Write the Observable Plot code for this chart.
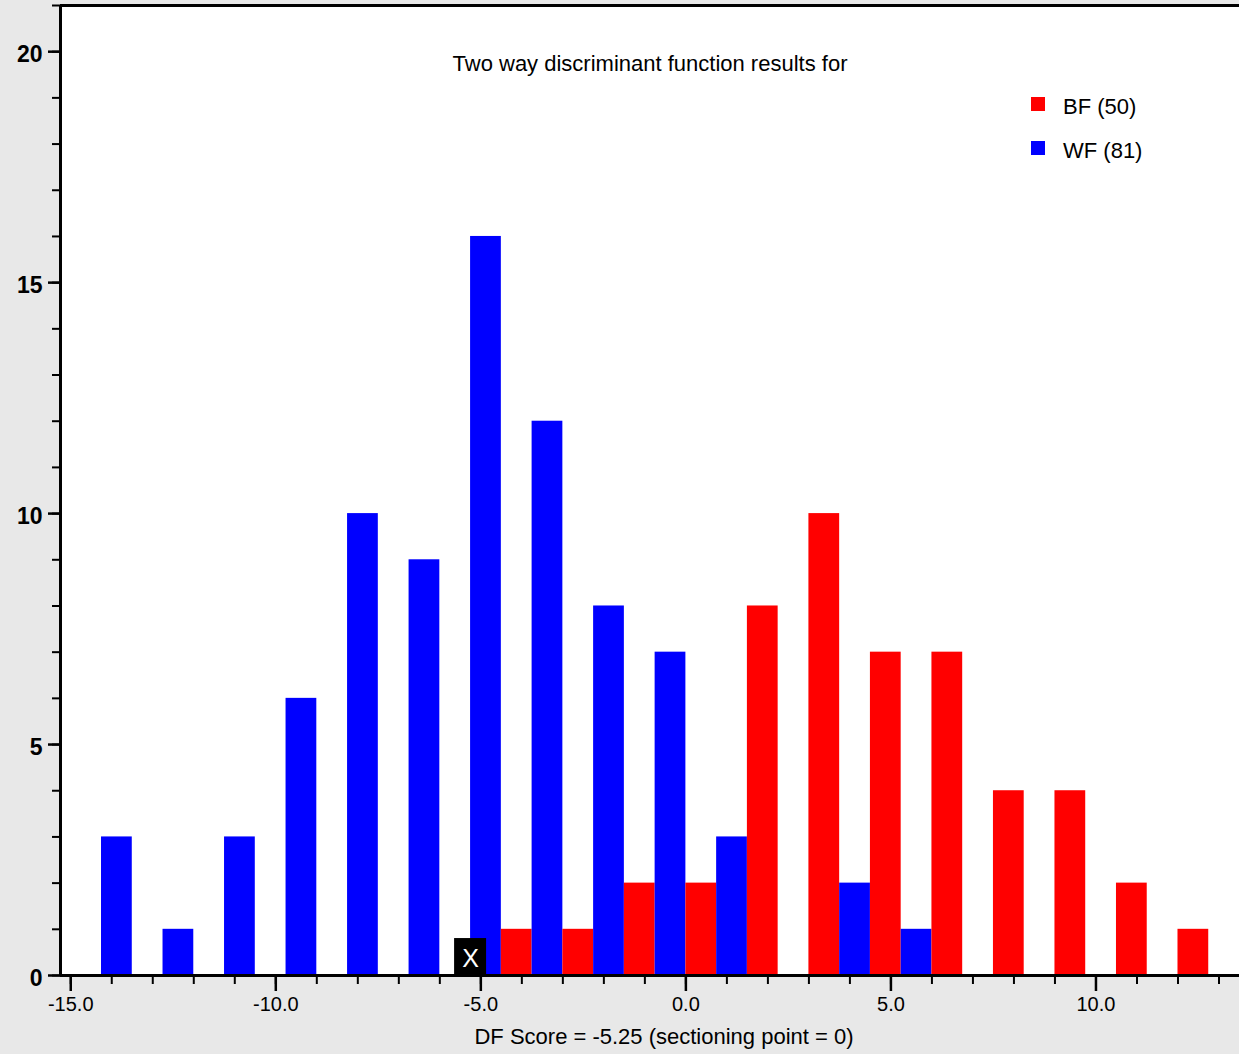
<!DOCTYPE html>
<html>
<head>
<meta charset="utf-8">
<script src="https://cdn.jsdelivr.net/npm/d3@7"></script>
<script src="https://cdn.jsdelivr.net/npm/@observablehq/plot@0.6"></script>
<style>
  html, body { margin: 0; padding: 0; background: #e8e8e8; }
  #wrap { position: relative; width: 1239px; height: 1054px; font-family: "Liberation Sans", Arial, sans-serif; }
  .legend-row { position: absolute; display: flex; align-items: center; font-size: 22px; color: #000; }
  .legend-swatch { width: 14px; height: 14px; margin-right: 18px; }
  .legend-row span { position: relative; top: 3px; }
</style>
</head>
<body>
<div id="wrap"></div>
<script>
// ---- data ----
const binStarts = [-14.25, -12.75, -11.25, -9.75, -8.25, -6.75, -5.25, -3.75, -2.25, -0.75, 0.75, 2.25, 3.75, 5.25, 6.75, 8.25, 9.75, 11.25];
const binWidth = 1.5;
const wfCounts = [3, 1, 3, 6, 10, 9, 16, 12, 8, 7, 3, 0, 2, 1, 0, 0, 0, 0];
const bfCounts = [0, 0, 0, 0, 0, 0, 1, 1, 2, 2, 8, 10, 7, 7, 4, 4, 2, 1];
const seriesNames = ["BF (50)", "WF (81)"];
const seriesColors = ["#ff0000", "#0000ff"];
const dfScore = [-5.25];
const xDomain = [-15.25, 13.5];
const yDomain = [0, 21];
const xMajorTicks = [-15, -10, -5, 0, 5, 10];
const xMinorTicks = d3.range(-15, 14);
const yMajorTicks = [0, 5, 10, 15, 20];
const yMinorTicks = d3.range(0, 22);
const titleText = "Two way discriminant function results for";
const xTitle = "DF Score = -5.25 (sectioning point = 0)";

// ---- build table ----
const bars = [];
binStarts.forEach((s, i) => {
  if (wfCounts[i] > 0) bars.push({x1: s, x2: s + binWidth / 2, count: wfCounts[i], color: seriesColors[1]});
  if (bfCounts[i] > 0) bars.push({x1: s + binWidth / 2, x2: s + binWidth, count: bfCounts[i], color: seriesColors[0]});
});

const chart = Plot.plot({
  width: 1239,
  height: 1054,
  marginLeft: 60,
  marginRight: 0,
  marginTop: 5,
  marginBottom: 79,
  style: {background: "transparent", color: "#000", fontFamily: "'Liberation Sans', Arial, sans-serif"},
  x: {domain: xDomain},
  y: {domain: yDomain},
  color: {type: "identity"},
  marks: [
    Plot.frame({fill: "white", stroke: null}),
    Plot.rectY(bars, {x1: "x1", x2: "x2", y: "count", fill: "color"}),
    Plot.rect(dfScore, {x1: d => d - 0.39, x2: d => d + 0.39, y1: 0, y2: 0.8, fill: "black"}),
    Plot.text(dfScore, {x: d => d, frameAnchor: "bottom", lineAnchor: "middle", dy: -17, text: () => "X", fill: "white", fontSize: 25}),
    Plot.axisX({ticks: xMinorTicks, tickSize: 9, strokeWidth: 2, tickFormat: () => "", label: null}),
    Plot.axisX({ticks: xMajorTicks, tickSize: 16, tickPadding: 5, strokeWidth: 2.5, fontSize: 20, tickFormat: d => d.toFixed(1), label: null}),
    Plot.axisY({ticks: yMinorTicks, tickSize: 8, strokeWidth: 2, tickFormat: () => "", label: null}),
    Plot.axisY({ticks: yMajorTicks, tickSize: 12, strokeWidth: 2.5, tickFormat: () => "", label: null}),
    Plot.text(yMajorTicks, {y: d => d, frameAnchor: "left", dx: -18, dy: 3, textAnchor: "end", fontSize: 23, fontWeight: "bold", text: d => String(d)}),
    Plot.ruleX([xDomain[0]], {strokeWidth: 3}),
    Plot.ruleY([yDomain[0]], {strokeWidth: 3}),
    Plot.ruleY([yDomain[1]], {strokeWidth: 3}),
    Plot.text([titleText], {frameAnchor: "top", lineAnchor: "middle", dy: 58, fontSize: 22, text: d => d}),
    Plot.text([xTitle], {frameAnchor: "bottom", lineAnchor: "middle", dy: 61, dx: 14, fontSize: 22, text: d => d})
  ]
});

const wrap = document.getElementById("wrap");
wrap.appendChild(chart);
chart.style.position = "absolute";
chart.style.left = "0";
chart.style.top = "0";

seriesNames.forEach((name, i) => {
  const row = document.createElement("div");
  row.className = "legend-row";
  row.style.left = "1031px";
  row.style.top = (91 + i * 44) + "px";
  const sw = document.createElement("div");
  sw.className = "legend-swatch";
  sw.style.background = seriesColors[i];
  const tx = document.createElement("span");
  tx.textContent = name;
  row.appendChild(sw);
  row.appendChild(tx);
  wrap.appendChild(row);
});
</script>
</body>
</html>
